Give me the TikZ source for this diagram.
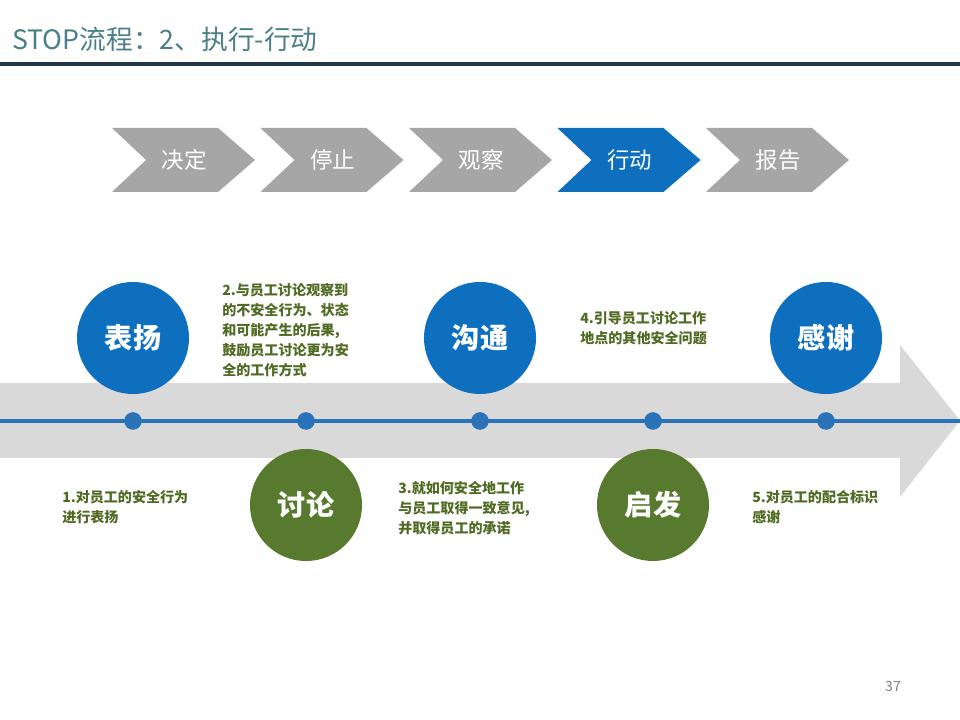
\documentclass[tikz,border=0pt]{standalone}
\usepackage{fontspec}
\setmainfont{Noto Sans CJK SC}
\definecolor{titleteal}{HTML}{4A7F86}
\definecolor{rulenavy}{HTML}{1F3649}
\definecolor{chevgray}{HTML}{A6A6A6}
\definecolor{chevblue}{HTML}{0E6FBF}
\definecolor{bandgray}{HTML}{D9D9D9}
\definecolor{lineblue}{HTML}{2A73B8}
\definecolor{talkgreen}{HTML}{587A2E}
\definecolor{notegreen}{HTML}{4F6A22}

\tikzset{
  bluedisc/.style={circle, fill=chevblue, minimum size=2.8cm, inner sep=0pt,
    text=white, font=\fontsize{20}{20}\selectfont\bfseries},
  greendisc/.style={bluedisc, fill=talkgreen},
  dot/.style={circle, fill=lineblue, minimum width=0.4cm, minimum height=0.44cm, inner sep=0pt},
  note/.style={anchor=north west, inner sep=0pt, align=left, text=notegreen,
    font=\fontsize{10}{14.3}\selectfont\bfseries},
  chevtext/.style={text=white, font=\fontsize{16}{16}\selectfont}
}

\begin{document}
\begin{tikzpicture}[x=0.025cm, y=-0.025cm, line join=miter]

  \useasboundingbox (0,0) rectangle (960,720);

  % title and rule
  \node[anchor=base west, inner sep=0pt, text=titleteal, font=\fontsize{19}{19}\selectfont]
    (title) at (12,50) {STOP流程：2、执行-行动};
  \fill[rulenavy] (0,62.5) rectangle (960,66.5);

  % process chevrons
  \foreach \l/\txt/\col [count=\i] in {112/决定/chevgray, 260.5/停止/chevgray,
      409/观察/chevgray, 557.5/行动/chevblue, 706/报告/chevgray}{
    \fill[\col] (\l,128) -- ++(106,0) -- ++(37,32) -- ++(-37,32) -- ++(-106,0) -- ++(34,-32) -- cycle;
    \node[chevtext] (c\i) at (\l+72,160) {\txt};
  }

  % timeline arrow
  \fill[bandgray] (0,383) -- (900,383) -- (900,345) -- (960,420.5) -- (900,497)
    -- (900,458) -- (0,458) -- cycle;
  \draw[lineblue, line width=2.2pt] (0,421) -- (960,421);

  \foreach \x [count=\i] in {133,306,480,653,826}{
    \node[dot] (d\i) at (\x,421) {};
  }

  % steps above and below
  \node[bluedisc] (praise) at (133,338) {表扬};
  \node[greendisc] (discuss) at (306,505) {讨论};
  \node[bluedisc] (talk) at (480,338) {沟通};
  \node[greendisc] (inspire) at (653,505) {启发};
  \node[bluedisc] (thanks) at (826,338) {感谢};

  \node[note] (n1) at (62,490) {1.对员工的安全行为\\进行表扬};
  \node[note] (n2) at (222,283) {2.与员工讨论观察到\\的不安全行为、状态\\和可能产生的后果,\\鼓励员工讨论更为安\\全的工作方式};
  \node[note] (n3) at (398,481) {3.就如何安全地工作\\与员工取得一致意见,\\并取得员工的承诺};
  \node[note] (n4) at (580,311) {4.引导员工讨论工作\\地点的其他安全问题};
  \node[note] (n5) at (752,490) {5.对员工的配合标识\\感谢};

  \node[anchor=base, text=gray, font=\fontsize{10}{10}\selectfont] (page) at (893,691) {37};

\end{tikzpicture}
\end{document}
